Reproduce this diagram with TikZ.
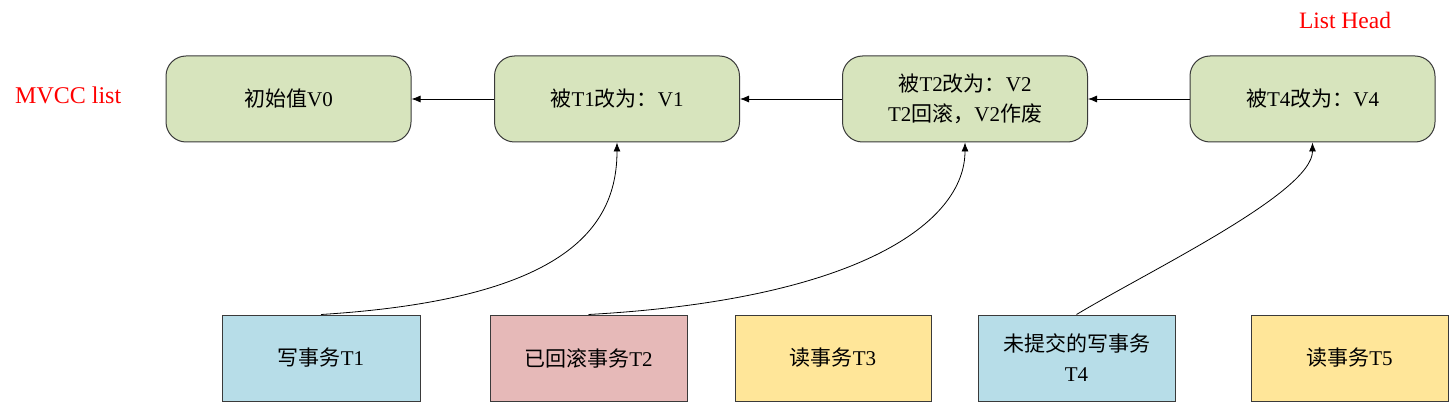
\documentclass[tikz,border=0pt]{standalone}
\usepackage{fontspec}
\setmainfont{Liberation Serif}
\newfontfamily\cjk{Noto Sans CJK SC}
\usetikzlibrary{arrows.meta}
\definecolor{boxgreen}{HTML}{D7E4BD}
\definecolor{boxblue}{HTML}{B7DDE8}
\definecolor{boxred}{HTML}{E6B9B8}
\definecolor{boxyellow}{HTML}{FFE699}
\definecolor{edge}{HTML}{3A3A3A}
\newcommand{\zh}[1]{{\cjk #1}}
\tikzset{
  verbox/.style={draw=edge, line width=1pt, rounded corners=20pt, fill=boxgreen,
    minimum width=245pt, minimum height=86pt, inner sep=0pt, align=center,
    font=\fontsize{21}{30}\selectfont},
  txbox/.style={draw=edge, line width=1pt, minimum height=86pt, inner sep=0pt,
    align=center, font=\fontsize{21}{30}\selectfont},
  link/.style={draw=black, line width=0.8pt, -{Latex[length=9pt,width=7pt]}},
  redlabel/.style={text=red, font=\fontsize{24}{28}\selectfont, inner sep=0pt}
}
\begin{document}
\begin{tikzpicture}[x=1pt,y=-1pt]
\useasboundingbox (0,0) rectangle (1453,403);
\node[verbox] (b1) at (288.5,99) {\zh{初始值}V0};
\node[verbox] (b2) at (617,99) {\zh{被}T1\zh{改为：}V1};
\node[verbox] (b3) at (965,99) {\zh{被}T2\zh{改为：}V2\\T2\zh{回滚，}V2\zh{作废}};
\node[verbox] (b4) at (1312.5,99) {\zh{被}T4\zh{改为：}V4};
\node[txbox, fill=boxblue, minimum width=198pt] (t1) at (321,358) {\zh{写事务}T1};
\node[txbox, fill=boxred, minimum width=197pt] (t2) at (588.5,358) {\zh{已回滚事务}T2};
\node[txbox, fill=boxyellow, minimum width=196pt] (t3) at (833,358) {\zh{读事务}T3};
\node[txbox, fill=boxblue, minimum width=197pt] (t4) at (1076.5,358) {\zh{未提交的写事务}\\T4};
\node[txbox, fill=boxyellow, minimum width=197pt] (t5) at (1349.5,358) {\zh{读事务}T5};
\node[redlabel, anchor=west] (mvcc) at (15,95) {MVCC list};
\node[redlabel, font=\fontsize{23.5}{28}\selectfont] (head) at (1345,20) {List Head};
\draw[link] (b2.west) -- (b1.east);
\draw[link] (b3.west) -- (b2.east);
\draw[link] (b4.west) -- (b3.east);
\draw[link] (t1.north) .. controls +(240,-15) and +(0,88) .. (b2.south);
\draw[link] (t2.north) .. controls +(270,-15) and +(0,80) .. (b3.south);
\draw[link] (t4.north) .. controls +(75,-45) and +(0,50) .. (b4.south);
\end{tikzpicture}
\end{document}
